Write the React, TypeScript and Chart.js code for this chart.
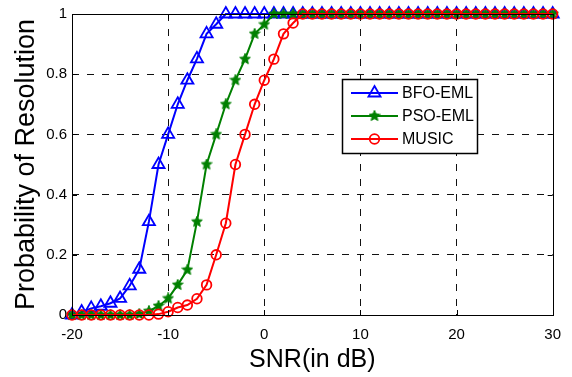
import React, { useEffect, useRef } from "react";
import { Chart, registerables } from "chart.js";

Chart.register(...registerables);

const snr = [
  -20, -19, -18, -17, -16, -15, -14, -13, -12, -11, -10, -9, -8, -7, -6, -5, -4, -3, -2, -1,
  0, 1, 2, 3, 4, 5, 6, 7, 8, 9, 10, 11, 12, 13, 14, 15, 16, 17, 18, 19, 20,
  21, 22, 23, 24, 25, 26, 27, 28, 29, 30,
];

const bfoEml = [
  0, 0.01, 0.022, 0.029, 0.039, 0.055, 0.097, 0.152, 0.31, 0.5, 0.6, 0.7, 0.78, 0.851, 0.934, 0.966, 1, 1, 1, 1,
  1, 1, 1, 1, 1, 1, 1, 1, 1, 1, 1, 1, 1, 1, 1, 1, 1, 1, 1, 1, 1,
  1, 1, 1, 1, 1, 1, 1, 1, 1, 1,
];

const psoEml = [
  0, 0, 0, 0, 0, 0, 0, 0.003, 0.013, 0.03, 0.055, 0.1, 0.15, 0.31, 0.5, 0.6, 0.7, 0.78, 0.85, 0.934,
  0.965, 1, 1, 1, 1, 1, 1, 1, 1, 1, 1, 1, 1, 1, 1, 1, 1, 1, 1, 1, 1,
  1, 1, 1, 1, 1, 1, 1, 1, 1, 1,
];

const music = [
  0, 0, 0, 0, 0, 0, 0, 0, 0, 0.003, 0.011, 0.025, 0.033, 0.054, 0.1, 0.2, 0.305, 0.5, 0.6, 0.7,
  0.78, 0.85, 0.934, 0.97, 1, 1, 1, 1, 1, 1, 1, 1, 1, 1, 1, 1, 1, 1, 1, 1, 1,
  1, 1, 1, 1, 1, 1, 1, 1, 1, 1,
];

const seriesNames = ["BFO-EML", "PSO-EML", "MUSIC"];
const xTicks = [-20, -10, 0, 10, 20, 30];
const yTicks = [0, 0.2, 0.4, 0.6, 0.8, 1];

const FONT = "'Liberation Sans', Arial, Helvetica, sans-serif";
const GRID_DASH = [7, 8];

function makeStar(color: string): HTMLCanvasElement {
  const c = document.createElement("canvas");
  const s = 12;
  c.width = s;
  c.height = s;
  const g = c.getContext("2d")!;
  const cx = s / 2, cy = s / 2;
  const ro = 5.6, ri = 2.6;
  g.beginPath();
  for (let k = 0; k < 10; k++) {
    const r = k % 2 === 0 ? ro : ri;
    const ang = -Math.PI / 2 + (k * Math.PI) / 5;
    const x = cx + Math.cos(ang) * r;
    const y = cy + Math.sin(ang) * r;
    if (k === 0) g.moveTo(x, y);
    else g.lineTo(x, y);
  }
  g.closePath();
  g.fillStyle = color;
  g.fill();
  g.strokeStyle = color;
  g.lineWidth = 1;
  g.stroke();
  return c;
}

function drawMarker(ctx: CanvasRenderingContext2D, style: any, x: number, y: number, r: number) {
  ctx.beginPath();
  if (style === "triangle") {
    ctx.moveTo(x, y - r);
    ctx.lineTo(x + r * 0.866, y + r * 0.5);
    ctx.lineTo(x - r * 0.866, y + r * 0.5);
    ctx.closePath();
    ctx.stroke();
  } else if (style === "circle") {
    ctx.arc(x, y, r, 0, Math.PI * 2);
    ctx.stroke();
  } else if (style instanceof HTMLCanvasElement) {
    ctx.drawImage(style, x - style.width / 2, y - style.height / 2);
  }
}

const boxPlugin = {
  id: "boxPlugin",
  afterDraw(chart: any) {
    const { ctx, chartArea: a, scales } = chart;
    ctx.save();
    ctx.strokeStyle = "#000";
    ctx.lineWidth = 1;
    ctx.setLineDash([]);
    ctx.strokeRect(Math.round(a.left) + 0.5, Math.round(a.top) + 0.5, Math.round(a.right - a.left), Math.round(a.bottom - a.top));
    const tl = 5;
    ctx.beginPath();
    for (const v of xTicks) {
      const px = Math.round(scales.x.getPixelForValue(v)) + 0.5;
      ctx.moveTo(px, a.bottom);
      ctx.lineTo(px, a.bottom - tl);
      ctx.moveTo(px, a.top);
      ctx.lineTo(px, a.top + tl);
    }
    for (const v of yTicks) {
      const py = Math.round(scales.y.getPixelForValue(v)) + 0.5;
      ctx.moveTo(a.left, py);
      ctx.lineTo(a.left + tl, py);
      ctx.moveTo(a.right, py);
      ctx.lineTo(a.right - tl, py);
    }
    ctx.stroke();

    // legend
    const lx = a.left + 270;
    const ly = a.top + 65;
    const lw = 135;
    const lh = 74;
    ctx.fillStyle = "#fff";
    ctx.fillRect(lx, ly, lw, lh);
    ctx.strokeStyle = "#000";
    ctx.lineWidth = 1.5;
    ctx.strokeRect(lx + 0.5, ly + 0.5, lw, lh);
    ctx.font = "16px " + FONT;
    ctx.textBaseline = "middle";
    ctx.textAlign = "left";
    chart.data.datasets.forEach((ds: any, i: number) => {
      const y = ly + 14 + i * 23;
      ctx.strokeStyle = ds.borderColor;
      ctx.lineWidth = 2;
      ctx.beginPath();
      ctx.moveTo(lx + 9, y);
      ctx.lineTo(lx + 56, y);
      ctx.stroke();
      ctx.save();
      ctx.strokeStyle = ds.pointBorderColor;
      ctx.lineWidth = ds.pointBorderWidth;
      drawMarker(ctx, ds.pointStyle, lx + 32.5, y, ds.pointRadius);
      ctx.restore();
      ctx.fillStyle = "#000";
      ctx.fillText(seriesNames[i], lx + 60, y + 1);
    });
    ctx.restore();
  },
};

export default function App() {
  const ref = useRef<HTMLCanvasElement>(null);
  useEffect(() => {
    if (!ref.current) return;
    const mk = (vals: number[]) => vals.map((v, i) => ({ x: snr[i], y: v }));
    const star = makeStar("#008000");
    const chart = new Chart(ref.current, {
      type: "line",
      data: {
        datasets: [
          {
            label: seriesNames[0],
            data: mk(bfoEml),
            borderColor: "#0000ff",
            backgroundColor: "rgba(255,255,255,0)",
            pointBorderColor: "#0000ff",
            pointBackgroundColor: "rgba(255,255,255,0)",
            pointStyle: "triangle",
            pointRadius: 7,
            pointBorderWidth: 1.8,
            borderWidth: 2,
            tension: 0,
            clip: false as any,
            order: 3,
          },
          {
            label: seriesNames[1],
            data: mk(psoEml),
            borderColor: "#008000",
            backgroundColor: "#008000",
            pointBorderColor: "#008000",
            pointBackgroundColor: "#008000",
            pointStyle: star as any,
            pointRadius: 5,
            pointBorderWidth: 1,
            borderWidth: 2,
            tension: 0,
            clip: false as any,
            order: 2,
          },
          {
            label: seriesNames[2],
            data: mk(music),
            borderColor: "#ff0000",
            backgroundColor: "rgba(255,255,255,0)",
            pointBorderColor: "#ff0000",
            pointBackgroundColor: "rgba(255,255,255,0)",
            pointStyle: "circle",
            pointRadius: 4.8,
            pointBorderWidth: 1.8,
            borderWidth: 2,
            tension: 0,
            clip: false as any,
            order: 1,
          },
        ],
      },
      options: {
        responsive: false,
        animation: false,
        events: [],
        layout: { padding: { top: 13, right: 16, left: 0, bottom: 0 } },
        plugins: { legend: { display: false }, tooltip: { enabled: false } },
        scales: {
          x: {
            type: "linear",
            min: -20,
            max: 30,
            afterBuildTicks: (s: any) => {
              s.ticks = xTicks.map((v) => ({ value: v }));
            },
            afterFit: (s: any) => {
              s.height = 62;
            },
            ticks: {
              color: "#000",
              font: { family: FONT, size: 15 },
              padding: 11,
              maxRotation: 0,
              autoSkip: false,
              callback: (v: any) => String(v),
            },
            grid: {
              color: (c: any) => (c.tick && (c.tick.value === -20 || c.tick.value === 30) ? "rgba(0,0,0,0)" : "#111"),
              lineWidth: 1,
              drawTicks: false,
            },
            border: { display: false, dash: GRID_DASH },
            title: {
              display: true,
              text: "SNR(in dB)",
              color: "#000",
              font: { family: FONT, size: 25 },
              padding: { top: 0, bottom: 2 },
            },
          },
          y: {
            type: "linear",
            min: 0,
            max: 1,
            afterBuildTicks: (s: any) => {
              s.ticks = yTicks.map((v) => ({ value: v }));
            },
            afterFit: (s: any) => {
              s.width = 72;
            },
            ticks: {
              color: "#000",
              font: { family: FONT, size: 15 },
              padding: 5,
              callback: (v: any) => String(v),
            },
            grid: {
              color: (c: any) => (c.tick && (c.tick.value === 0 || c.tick.value === 1) ? "rgba(0,0,0,0)" : "#111"),
              lineWidth: 1,
              drawTicks: false,
            },
            border: { display: false, dash: GRID_DASH },
            title: {
              display: true,
              text: "Probability of Resolution",
              color: "#000",
              font: { family: FONT, size: 27 },
              padding: { top: 10, bottom: 0 },
            },
          },
        },
      },
      plugins: [boxPlugin],
    });
    return () => chart.destroy();
  }, []);
  return (
    <div style={{ position: "absolute", left: 0, top: 0, width: 572, height: 377, background: "#fff" }}>
      <canvas ref={ref} width={572} height={377} style={{ width: 572, height: 377, display: "block" }} />
    </div>
  );
}
